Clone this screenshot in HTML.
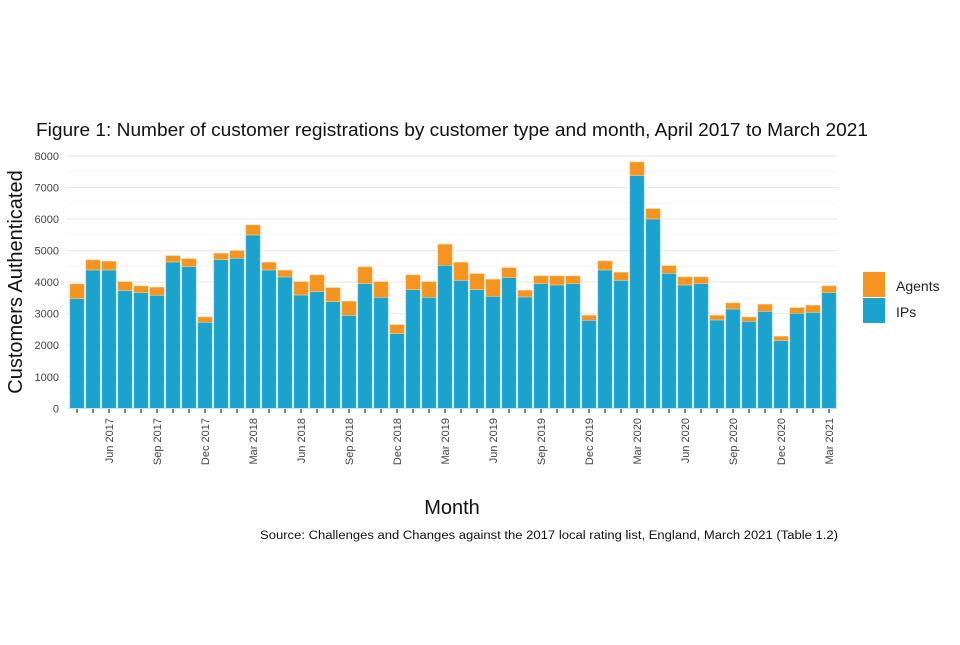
<!DOCTYPE html>
<html><head><meta charset="utf-8"><style>
body{margin:0;background:#fff;width:960px;height:640px;overflow:hidden;font-family:"Liberation Sans",sans-serif}
</style></head><body>
<svg id="chart" width="960" height="640" xmlns="http://www.w3.org/2000/svg">
<text x="36" y="136" font-size="18.5" fill="#111" textLength="832" lengthAdjust="spacingAndGlyphs">Figure 1: Number of customer registrations by customer type and month, April 2017 to March 2021</text>
<g id="grid"></g><g id="bars"></g><g id="yaxis"></g><g id="xaxis"></g>
<text transform="translate(22,282) rotate(-90)" text-anchor="middle" font-size="20" fill="#111">Customers Authenticated</text>
<text x="452" y="514" text-anchor="middle" font-size="20" fill="#111">Month</text>
<text x="260" y="539" font-size="11.5" fill="#111" textLength="578" lengthAdjust="spacingAndGlyphs">Source: Challenges and Changes against the 2017 local rating list, England, March 2021 (Table 1.2)</text>
<g>
<rect x="863" y="272" width="22" height="25" fill="#f7941d"/>
<text x="896" y="291" font-size="14" fill="#222">Agents</text>
<rect x="863" y="298" width="22" height="25" fill="#1ba3d0"/>
<text x="896" y="317" font-size="14" fill="#222">IPs</text>
</g>
</svg>
<script>
const months = ["Apr 2017","May 2017","Jun 2017","Jul 2017","Aug 2017","Sep 2017","Oct 2017","Nov 2017","Dec 2017","Jan 2018","Feb 2018","Mar 2018","Apr 2018","May 2018","Jun 2018","Jul 2018","Aug 2018","Sep 2018","Oct 2018","Nov 2018","Dec 2018","Jan 2019","Feb 2019","Mar 2019","Apr 2019","May 2019","Jun 2019","Jul 2019","Aug 2019","Sep 2019","Oct 2019","Nov 2019","Dec 2019","Jan 2020","Feb 2020","Mar 2020","Apr 2020","May 2020","Jun 2020","Jul 2020","Aug 2020","Sep 2020","Oct 2020","Nov 2020","Dec 2020","Jan 2021","Feb 2021","Mar 2021"];
const ips = [3478,4387,4387,3732,3668,3584,4641,4493,2727,4715,4757,5497,4387,4165,3594,3700,3383,2949,3953,3520,2368,3763,3520,4535,4059,3763,3552,4144,3531,3953,3911,3953,2791,4387,4059,7378,6004,4281,3911,3953,2801,3150,2759,3076,2146,3013,3044,3668];
const agents = [465,317,275,285,212,253,200,253,169,200,243,317,243,211,423,528,444,444,529,497,285,465,497,666,571,508,539,317,211,244,286,244,158,285,254,434,328,243,254,212,148,190,137,222,137,179,222,212];
const yTicks = [0,1000,2000,3000,4000,5000,6000,7000,8000];
const xLabelIdx = [2,5,8,11,14,17,20,23,26,29,32,35,38,41,44,47];
const NS="http://www.w3.org/2000/svg";
const y0=408.3, ppu=(408.3-156)/8000;
const yS=v=>y0-v*ppu;
const xS=i=>77+16*i;
const bw=14.4;
function mk(t,a,p){const e=document.createElementNS(NS,t);for(const k in a)e.setAttribute(k,a[k]);p.appendChild(e);return e;}
const grid=document.getElementById('grid');
for(let v=0;v<=8000;v+=500){
  const g=mk('line',{x1:66,x2:838,y1:yS(v),y2:yS(v),stroke:v%1000?'#f4f4f4':'#ebebeb','stroke-width':v%1000?0.8:1.2},grid);
  
  
}
const ya=document.getElementById('yaxis');
yTicks.forEach(v=>{
  const t=mk('text',{x:59,y:yS(v)+4,'text-anchor':'end','font-size':11,fill:'#444'},ya);
  t.textContent=v;
  
  
});
const bars=document.getElementById('bars');
const xa=document.getElementById('xaxis');
months.forEach((m,i)=>{
  const x=xS(i)-bw/2;
  const b1=mk('rect',{x:x,y:yS(ips[i]),width:bw,height:y0-yS(ips[i]),fill:'#1ba3d0',stroke:'#9fd9ee','stroke-width':0.6},bars);
  
  
  const b2=mk('rect',{x:x,y:yS(ips[i]+agents[i]),width:bw,height:yS(ips[i])-yS(ips[i]+agents[i]),fill:'#f7941d',stroke:'#fbc78a','stroke-width':0.6},bars);
  
  
  const tk=mk('line',{x1:xS(i),x2:xS(i),y1:409,y2:413,stroke:'#333','stroke-width':1.2},xa);
  
  
});
xLabelIdx.forEach(i=>{
  const t=mk('text',{transform:`translate(${xS(i)+4},418) rotate(-90)`,'text-anchor':'end','font-size':11,fill:'#444'},xa);
  t.textContent=months[i];
  
  
});
</script>
</body></html>
